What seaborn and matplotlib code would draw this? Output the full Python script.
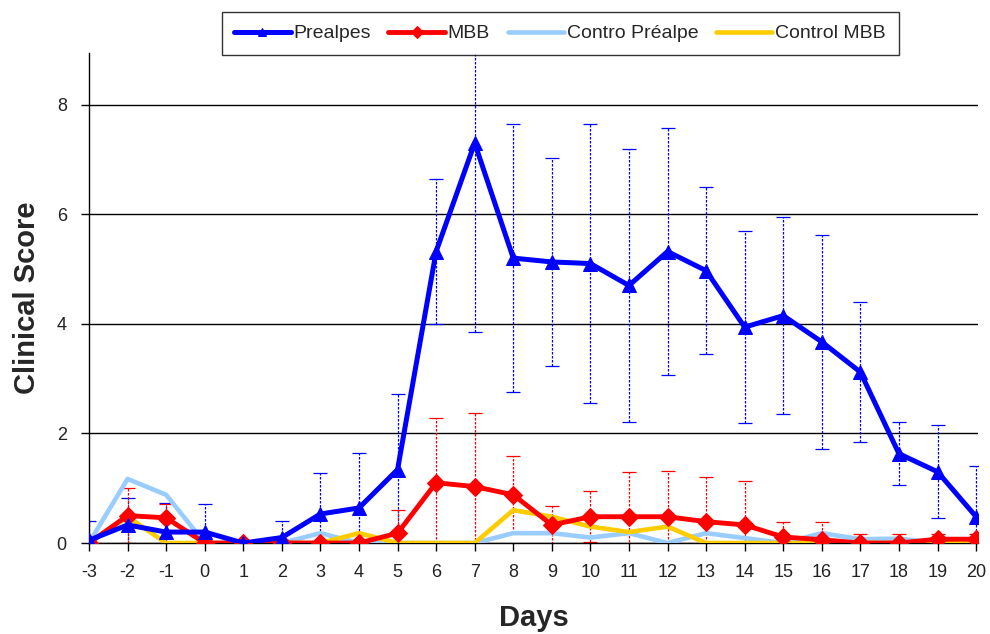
import matplotlib
matplotlib.use("Agg")
import matplotlib.pyplot as plt
import seaborn as sns
import numpy as np
import pandas as pd

days = list(range(-3, 21))
prealpes = [0.05, 0.33, 0.2, 0.2, 0.0, 0.1, 0.53, 0.64, 1.34, 5.32, 7.3, 5.2, 5.13, 5.1, 4.7,
            5.32, 4.97, 3.94, 4.15, 3.67, 3.12, 1.63, 1.3, 0.48]
prealpes_err = [0.35, 0.5, 0.53, 0.52, 0.0, 0.3, 0.74, 1.0, 1.38, 1.32, 3.45, 2.44, 1.9, 2.54, 2.5,
                2.26, 1.52, 1.75, 1.8, 1.96, 1.28, 0.57, 0.85, 0.92]
mbb = [0.0, 0.5, 0.46, 0.0, 0.0, 0.0, 0.0, 0.0, 0.18, 1.1, 1.03, 0.88, 0.33, 0.48, 0.48,
       0.48, 0.39, 0.33, 0.11, 0.06, 0.0, 0.0, 0.07, 0.07]
mbb_err = [0.0, 0.5, 0.26, 0.0, 0.0, 0.0, 0.0, 0.0, 0.42, 1.18, 1.34, 0.7, 0.35, 0.47, 0.82,
           0.84, 0.82, 0.81, 0.28, 0.33, 0.17, 0.17, 0.1, 0.1]
contro_prealpe = [0.0, 1.17, 0.88, 0.0, 0.0, 0.0, 0.18, 0.0, 0.0, 0.0, 0.0, 0.18, 0.18, 0.1, 0.18,
                  0.0, 0.18, 0.09, 0.0, 0.18, 0.07, 0.08, 0.0, 0.0]
control_mbb = [0.0, 0.48, 0.0, 0.0, 0.0, 0.0, 0.0, 0.18, 0.0, 0.0, 0.0, 0.6, 0.48, 0.3, 0.2,
               0.3, 0.0, 0.0, 0.0, 0.0, 0.0, 0.0, 0.0, 0.0]

series_names = ["Prealpes", "MBB", "Contro Préalpe", "Control MBB"]
colors = ["#0000FF", "#FF0000", "#99CCFF", "#FFCC00"]

sns.set_style("white")
plt.rcParams["font.family"] = ["Liberation Sans", "DejaVu Sans"]

fig = plt.figure(figsize=(9.9, 6.34), dpi=100)
ax = fig.add_axes([0.0899, 0.1435, 0.898, 0.7735])

# error bars (behind)
for vals, err, col in [(prealpes, prealpes_err, colors[0]), (mbb, mbb_err, colors[1])]:
    eb = ax.errorbar(days, vals, yerr=err, fmt="none", ecolor=col, elinewidth=0.9,
                     capsize=5, capthick=0.9, zorder=2)
    for lc in eb[2]:
        lc.set_linestyle((0, (2, 1.2)))

df = pd.DataFrame({"day": days, "v0": prealpes, "v1": mbb, "v2": contro_prealpe, "v3": control_mbb})

sns.lineplot(data=df, x="day", y="v2", ax=ax, color=colors[2], linewidth=3.3,
             label=series_names[2], zorder=3)
sns.lineplot(data=df, x="day", y="v3", ax=ax, color=colors[3], linewidth=3.3,
             label=series_names[3], zorder=3)
sns.lineplot(data=df, x="day", y="v1", ax=ax, color=colors[1], linewidth=3.5,
             marker="D", markersize=9, markeredgecolor=colors[1], label=series_names[1], zorder=4)
sns.lineplot(data=df, x="day", y="v0", ax=ax, color=colors[0], linewidth=3.6,
             marker="^", markersize=10, markeredgecolor=colors[0], label=series_names[0], zorder=5)

ax.set_xlim(-3, 20.05)
ax.set_ylim(0, 8.95)
ax.set_xticks(days)
ax.set_xticklabels([str(d) for d in days], fontsize=13)
ax.set_yticks([0, 2, 4, 6, 8])
ax.set_yticklabels(["0", "2", "4", "6", "8"], fontsize=13)
ax.yaxis.grid(True, color="black", linewidth=1)
ax.set_axisbelow(True)
for s in ["top", "right"]:
    ax.spines[s].set_visible(False)
for s in ["left", "bottom"]:
    ax.spines[s].set_color("black")
    ax.spines[s].set_linewidth(1)
ax.tick_params(axis="both", direction="out", length=6, color="black", width=1,
               bottom=True, left=True, labelcolor="#222222")
ax.tick_params(axis="x", pad=9)
ax.tick_params(axis="y", pad=10)

ax.set_xlabel("Days", fontsize=21, fontweight="bold", labelpad=17)
ax.set_ylabel("Clinical Score", fontsize=21, fontweight="bold", labelpad=11)

handles, labels = ax.get_legend_handles_labels()
order = [labels.index(n) for n in series_names]
leg = ax.legend([handles[i] for i in order], [labels[i] for i in order],
                loc="center", bbox_to_anchor=(0.5657, 0.947), bbox_transform=fig.transFigure,
                ncol=4, fontsize=14, frameon=True, fancybox=False, edgecolor="black",
                handlelength=2.9, handletextpad=0.15, columnspacing=0.9, borderpad=0.65,
                borderaxespad=0)
leg.get_frame().set_linewidth(1)
for h in leg.legend_handles:
    h.set_markersize(6)
leg.set_zorder(10)

fig.savefig("out.png", dpi=100)
